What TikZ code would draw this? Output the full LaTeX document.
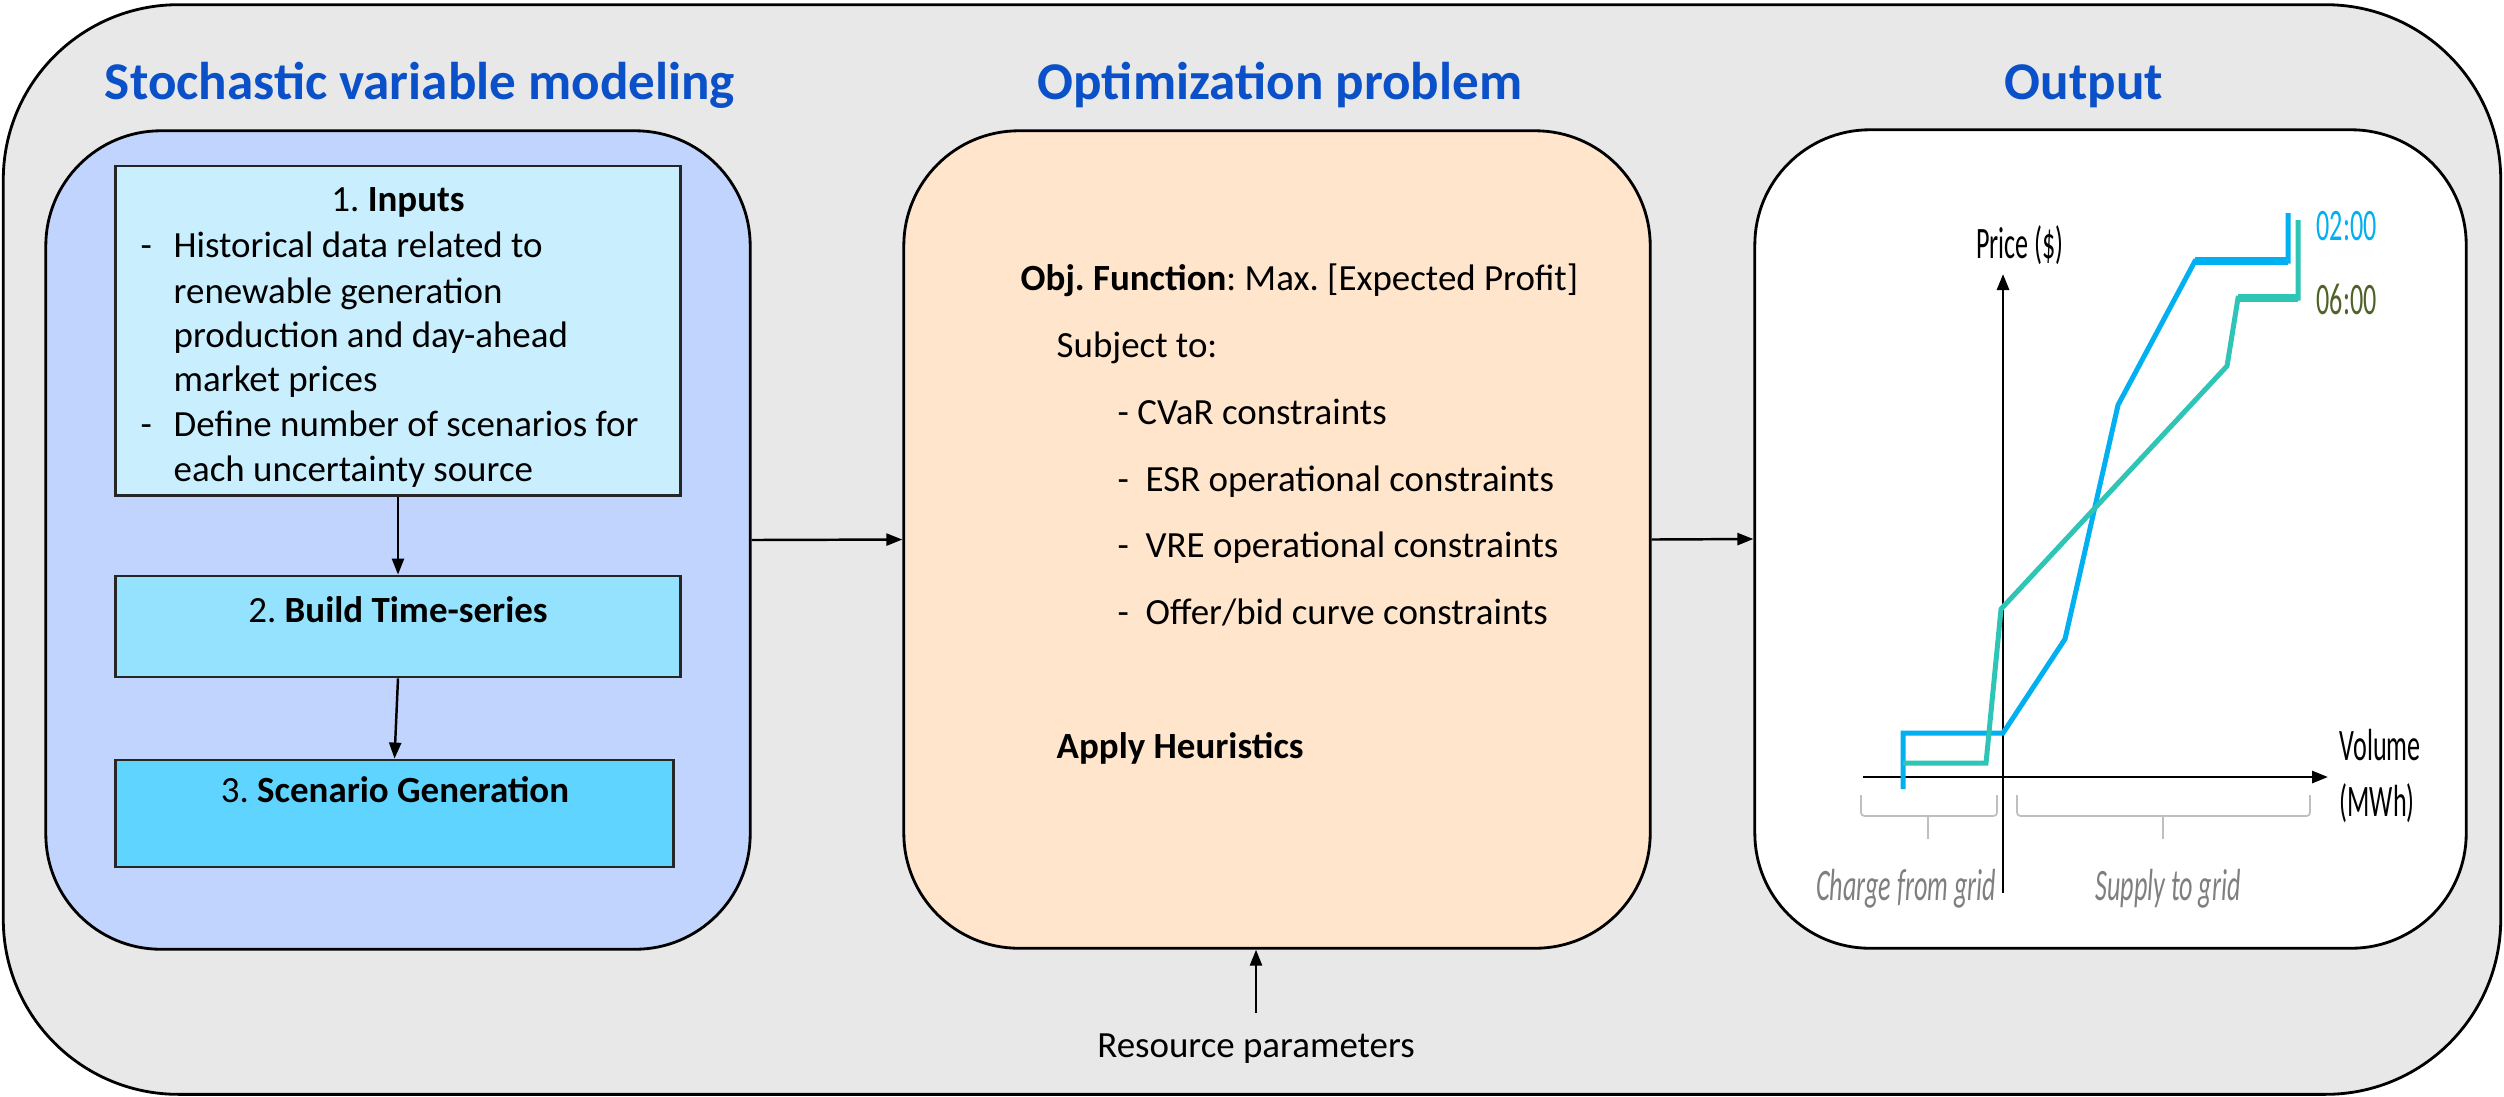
\documentclass[tikz,border=0pt]{standalone}
\usepackage{fontspec}
\setmainfont{Carlito}
\newfontfamily\chartfont{Carlito}[FakeStretch=0.58]
\usetikzlibrary{arrows.meta}
\frenchspacing

\definecolor{framebg}{RGB}{232,232,232}
\definecolor{titleblue}{RGB}{10,80,200}
\definecolor{panelblue}{RGB}{193,212,253}
\definecolor{inputsfill}{RGB}{201,238,253}
\definecolor{buildfill}{RGB}{148,226,253}
\definecolor{scenfill}{RGB}{94,212,254}
\definecolor{panelpeach}{RGB}{254,229,204}
\definecolor{curveblue}{RGB}{0,176,240}
\definecolor{curveteal}{RGB}{46,196,182}
\definecolor{labelolive}{RGB}{79,98,40}
\definecolor{bracegray}{RGB}{191,191,191}
\definecolor{notegray}{RGB}{127,127,127}

\begin{document}
\begin{tikzpicture}[x=0.01cm,y=-0.01cm,
  arr/.style={-{Triangle[length=0.16cm,width=0.12cm]}, line width=0.7pt},
  panel/.style={draw=black, line width=0.8pt, rounded corners=1.15cm, inner sep=0pt},
  stepbox/.style={draw=black!85, line width=0.8pt, inner sep=0pt},
  heading/.style={font=\fontsize{15.1}{18}\selectfont\bfseries, text=titleblue, inner sep=0pt, anchor=base},
  body/.style={font=\fontsize{10.5}{12.75}\selectfont, inner sep=0pt},
  chartlbl/.style={font=\chartfont\fontsize{12.8}{15}\selectfont, inner sep=0pt},
  curve/.style={line width=1.42pt, line join=miter},
  topstep/.style={line width=2.3pt},
  brace/.style={draw=bracegray, line width=0.5pt, rounded corners=1pt}
]
\useasboundingbox (0,0) rectangle (2504,1096);

% outer frame
\node[panel, fill=framebg, rounded corners=1.75cm, minimum width=24.96cm, minimum height=10.89cm] (frame) at (1252,549.5) {};

% column headings
\node[heading] (h1) at (420,99) {Stochastic variable modeling};
\node[heading] (h2) at (1280,99) {Optimization problem};
\node[heading] (h3) at (2084,99) {Output};

% three panels
\node[panel, fill=panelblue, minimum width=7.04cm, minimum height=8.18cm] (left) at (398,540) {};
\node[panel, fill=panelpeach, minimum width=7.46cm, minimum height=8.17cm] (mid) at (1277,539.5) {};
\node[panel, fill=white, minimum width=7.11cm, minimum height=8.18cm] (right) at (2110.5,539) {};

% step boxes
\node[stepbox, fill=inputsfill, minimum width=5.64cm, minimum height=3.29cm] (inputs) at (398,330.5) {};
\node[stepbox, fill=buildfill, minimum width=5.64cm, minimum height=1.01cm] (build) at (398,626.5) {};
\node[stepbox, fill=scenfill, minimum width=5.57cm, minimum height=1.07cm] (scen) at (394.5,813.5) {};

% step 1 text
\node[body, anchor=base] (in0) at (398,211) {1. \textbf{Inputs}};
\node[body, anchor=base west] (d1) at (140,257) {-};
\node[body, anchor=base west] (in1) at (173,257) {Historical data related to};
\node[body, anchor=base west] (in2) at (173,303) {renewable generation};
\node[body, anchor=base west] (in3) at (173,347) {production and day-ahead};
\node[body, anchor=base west] (in4) at (173,391) {market prices};
\node[body, anchor=base west] (d2) at (140,436) {-};
\node[body, anchor=base west] (in5) at (173,436) {Define number of scenarios for};
\node[body, anchor=base west] (in6) at (173,481) {each uncertainty source};

% steps 2 and 3 text
\node[body, anchor=base] (bt) at (398,622) {2. \textbf{Build Time-series}};
\node[body, anchor=base] (st) at (395,802) {3. \textbf{Scenario Generation}};

% optimization text
\node[body, anchor=base west] (obj) at (1020,290) {\textbf{Obj. Function}: Max. [Expected Profit]};
\node[body, anchor=base west] (subj) at (1056,357) {Subject to:};
\node[body, anchor=base west] (c1) at (1117,424) {- CVaR constraints};
\node[body, anchor=base west] (c2) at (1117,491) {-\ \ ESR operational constraints};
\node[body, anchor=base west] (c3) at (1117,557) {-\ \ VRE operational constraints};
\node[body, anchor=base west] (c4) at (1117,624) {-\ \ Offer/bid curve constraints};
\node[body, anchor=base west] (heur) at (1056,758) {\textbf{Apply Heuristics}};

% resource parameters
\node[body, anchor=base] (res) at (1256,1057) {Resource parameters};
\coordinate (resTop) at (1256,1013);

% connectors
\draw[arr] (inputs.south) -- (build.north);
\draw[arr] (build.south) -- (scen.north);
\draw[arr] (left.east) -- (mid.west);
\draw[arr] (mid.east) -- (right.west);
\draw[arr] (resTop) -- (resTop |- mid.south);

% offer/bid chart: axes
\draw[arr, line width=0.8pt] (2003,893) -- (2003,274);
\draw[arr, line width=0.8pt] (1863,777) -- (2328,777);

% 02:00 curve
\draw[curve, curveblue] (1903,789) -- (1903,733) -- (2003,733) -- (2065,639) -- (2118,405) -- (2195,261) -- (2288,261) -- (2288,213);
\draw[curveblue, topstep] (2195,261) -- (2288,261);
% 06:00 curve
\draw[curve, curveteal] (1903,763) -- (1986,763) -- (2001,609) -- (2227,366) -- (2238,298) -- (2298,298) -- (2298,220);
\draw[curveteal, topstep] (2238,298) -- (2298,298);

% braces under the volume axis
\draw[brace] (1861,795) -- (1861,816) -- (1997,816) -- (1997,795);
\draw[brace] (1928,816) -- (1928,839);
\draw[brace] (2017,795) -- (2017,816) -- (2310,816) -- (2310,795);
\draw[brace] (2163,816) -- (2163,839);

% chart labels
\node[chartlbl] (price) at (2020,245) {Price (\$)};
\node[chartlbl, anchor=west] (vol) at (2339,745) {Volume};
\node[chartlbl, anchor=west] (mwh) at (2339,803) {(MWh)};
\node[chartlbl, anchor=west, text=curveblue] (t02) at (2316,226) {02:00};
\node[chartlbl, anchor=west, text=labelolive] (t06) at (2316,299) {06:00};
\node[chartlbl, text=notegray] (charge) at (1906,889) {\itshape Charge from grid};
\node[chartlbl, text=notegray] (supply) at (2168,889) {\itshape Supply to grid};
\end{tikzpicture}
\end{document}
